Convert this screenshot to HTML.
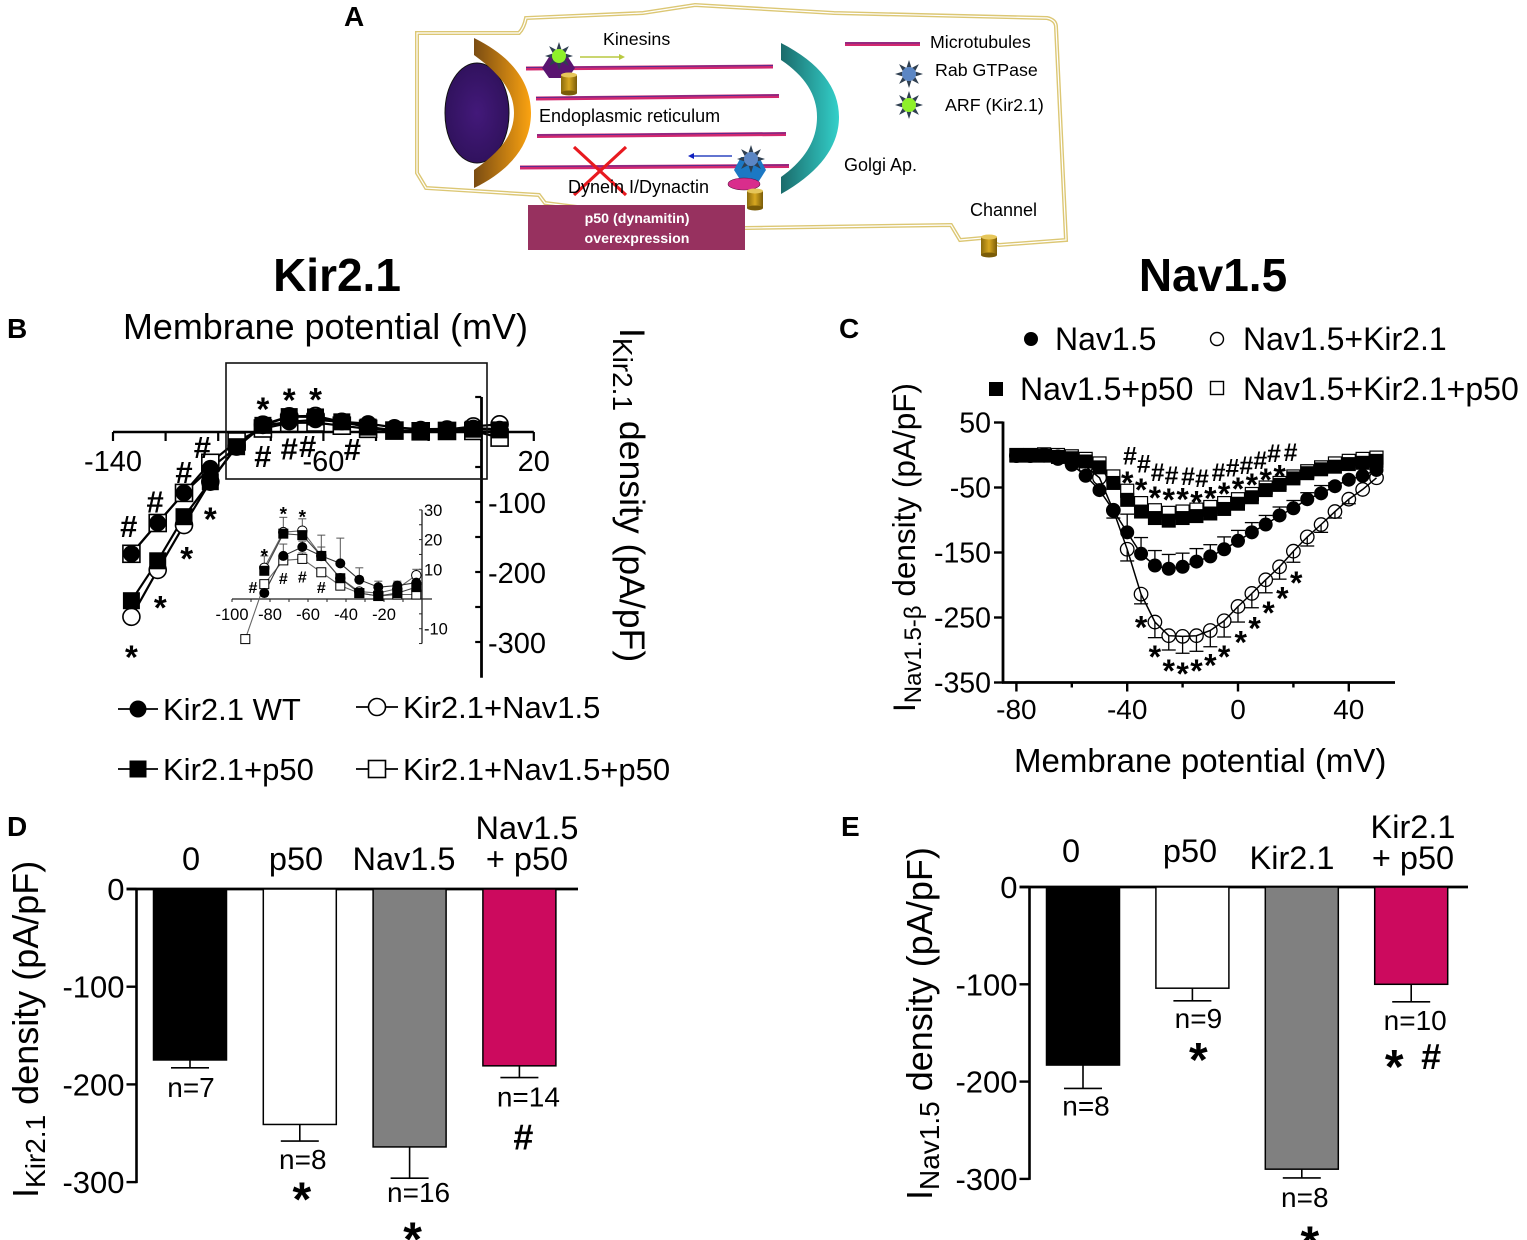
<!DOCTYPE html>
<html lang="en">
<head>
<meta charset="utf-8">
<title>Kir2.1 and Nav1.5 current density figure</title>
<style>
html,body{margin:0;padding:0;background:#fff;width:1527px;height:1240px;overflow:hidden}
svg{display:block}
text{font-family:"Liberation Sans",Arial,sans-serif;fill:#000}
</style>
</head>
<body>
<svg id="figure" xmlns="http://www.w3.org/2000/svg" width="1527" height="1240" viewBox="0 0 1527 1240">
  <defs>
    <linearGradient id="orangeGrad" x1="0" x2="1" y1="0" y2="0"><stop offset="0" stop-color="#7a4c12"/><stop offset="1" stop-color="#fba311"/></linearGradient>
    <linearGradient id="tealGrad" x1="0" x2="1" y1="0" y2="0"><stop offset="0" stop-color="#1b6b6b"/><stop offset="1" stop-color="#33d0ca"/></linearGradient>
    <linearGradient id="goldGrad" x1="0" x2="1" y1="0" y2="0"><stop offset="0" stop-color="#8a6a0c"/><stop offset=".5" stop-color="#d8a820"/><stop offset="1" stop-color="#7a5c08"/></linearGradient>
    <radialGradient id="nucGrad"><stop offset="0" stop-color="#43197a"/><stop offset="1" stop-color="#31125e"/></radialGradient>
  </defs>
  <rect width="1527" height="1240" fill="#fff"/>

  <g id="panel-a">
    <path d="M417 33 L519 33 Q524 28 526 18 L643 13 L695 5 L834 13 L1047 18 Q1056 20 1056 27 L1066 240 L999 245 L982 238 L960 240 L951 225 L745 228 L545 203 L539 195 L426 188 L417 173 Z" fill="none" stroke="#dcc774" stroke-width="4"/>
    <path d="M417 33 L519 33 Q524 28 526 18 L643 13 L695 5 L834 13 L1047 18 Q1056 20 1056 27 L1066 240 L999 245 L982 238 L960 240 L951 225 L745 228 L545 203 L539 195 L426 188 L417 173 Z" fill="none" stroke="#fff" stroke-width="1.2"/>
    <ellipse cx="477" cy="113" rx="32" ry="50" fill="url(#nucGrad)" stroke="#111" stroke-width="1"/>
    <path d="M474 38 C515 58 531 85 531 113 C531 141 515 168 474 188 L474 170 C500 152 514 135 514 113 C514 91 500 74 474 55 Z" fill="url(#orangeGrad)"/>
    <path d="M781 43 C820 63 839 88 839 117 C839 146 820 172 781 194 L781 177 C805 160 817 140 817 117 C817 95 805 76 781 60 Z" fill="url(#tealGrad)"/>
    <g stroke-linecap="butt">
      <line x1="526" y1="68.5" x2="773" y2="66.5" stroke="#d2286f" stroke-width="4"/>
      <line x1="536" y1="98.5" x2="779" y2="96" stroke="#d2286f" stroke-width="4"/>
      <line x1="537" y1="136" x2="786" y2="134" stroke="#d2286f" stroke-width="4"/>
      <line x1="520" y1="167.5" x2="789" y2="166" stroke="#d2286f" stroke-width="4"/>
      <line x1="845" y1="44" x2="920" y2="44" stroke="#d2286f" stroke-width="4"/>
      <line x1="526" y1="67.5" x2="773" y2="65.5" stroke="#5a2a90" stroke-width="1"/>
      <line x1="536" y1="97.5" x2="779" y2="95" stroke="#5a2a90" stroke-width="1"/>
      <line x1="537" y1="135" x2="786" y2="133" stroke="#5a2a90" stroke-width="1"/>
      <line x1="520" y1="166.5" x2="789" y2="165" stroke="#5a2a90" stroke-width="1"/>
      <line x1="845" y1="43" x2="920" y2="43" stroke="#5a2a90" stroke-width="1"/>
    </g>
    <polygon points="542,68 549,57 568,57 575,68 568,78 549,78" fill="#5a1470"/>
    <polygon points="734,170 741,157 759,157 766,170 759,181 741,181" fill="#1c78c4"/>
    <ellipse cx="744" cy="184" rx="16" ry="6" fill="#d92d8c" stroke="#5a1040" stroke-width=".6"/>
    <line x1="580" y1="57" x2="620" y2="57" stroke="#b9c940" stroke-width="1.5"/>
    <polygon points="625,57 619,54 619,60" fill="#b9c940"/>
    <line x1="732" y1="156" x2="693" y2="156" stroke="#2e46c0" stroke-width="1.5"/>
    <polygon points="688,156 694,153 694,159" fill="#1020c0"/>
    <g id="a-icons"></g>
    <line x1="574" y1="147" x2="626" y2="195" stroke="#e8191f" stroke-width="3.2"/>
    <line x1="626" y1="147" x2="574" y2="195" stroke="#e8191f" stroke-width="3.2"/>
    <rect x="528" y="205" width="217" height="45" fill="#97315f"/>
    <text x="637" y="223" font-size="14.2" font-weight="bold" text-anchor="middle" style="fill:#fff">p50 (dynamitin)</text>
    <text x="637" y="243" font-size="14.2" font-weight="bold" text-anchor="middle" style="fill:#fff">overexpression</text>
    <text x="603" y="45" font-size="17.8">Kinesins</text>
    <text x="930" y="48" font-size="17.8">Microtubules</text>
    <text x="935" y="76" font-size="17.8">Rab GTPase</text>
    <text x="945" y="111" font-size="17.8">ARF (Kir2.1)</text>
    <text x="539" y="122" font-size="18">Endoplasmic reticulum</text>
    <text x="568" y="193" font-size="18">Dynein I/Dynactin</text>
    <text x="844" y="171" font-size="18">Golgi Ap.</text>
    <text x="970" y="216" font-size="18">Channel</text>
  </g>

  <text x="344" y="26" font-size="28" font-weight="bold">A</text>
  <text x="7" y="338" font-size="28" font-weight="bold">B</text>
  <text x="839" y="338" font-size="28" font-weight="bold">C</text>
  <text x="7" y="836" font-size="28" font-weight="bold">D</text>
  <text x="841" y="836" font-size="28" font-weight="bold">E</text>

  <text x="337" y="291" font-size="46" font-weight="bold" text-anchor="middle">Kir2.1</text>
  <text x="1213" y="291" font-size="46" font-weight="bold" text-anchor="middle">Nav1.5</text>

  <text x="123" y="339" font-size="35.9">Membrane potential (mV)</text>
  <text transform="translate(620,328) rotate(90)" font-size="35.6">I<tspan font-size="28" dy="7">Kir2.1</tspan><tspan dy="-7"> density (pA/pF)</tspan></text>

  <g id="chart-b"></g>
  <g id="chart-b-inset"></g>
  <rect x="226" y="363" width="261" height="116" fill="none" stroke="#111" stroke-width="1.6"/>

  <g id="legend-b"></g>

  <text transform="translate(915,712) rotate(-90)" font-size="31.5">I<tspan font-size="24" dy="6">Nav1.5-β</tspan><tspan dy="-6"> density (pA/pF)</tspan></text>
  <text x="1014" y="772" font-size="33">Membrane potential (mV)</text>
  <g id="chart-c"></g>
  <g id="legend-c"></g>

  <text transform="translate(38,1198) rotate(-90)" font-size="36">I<tspan font-size="28" dy="7">Kir2.1</tspan><tspan dy="-7"> density (pA/pF)</tspan></text>
  <text transform="translate(932,1200) rotate(-90)" font-size="36">I<tspan font-size="28" dy="7">Nav1.5</tspan><tspan dy="-7"> density (pA/pF)</tspan></text>
  <g id="chart-d"></g>
  <g id="chart-e"></g>
</svg>

<script>
/* ---------- Panel B data ---------- */
const bVoltages = [-133,-123,-113,-103,-93,-83,-73,-63,-53,-43,-33,-23,-13,-3,7];
const bKirWT = [-174,-130,-87,-52,-22,9,14.5,17.5,14.5,12,6.5,4,4.5,5.5,4];
const bKirNav = [-264,-197,-133,-71,-20,10.5,22.5,23,14.5,7,2.5,2,3.5,8,11];
const bKirP50 = [-241,-184,-121,-71,-21,9.5,22,21.5,14.5,7,2,1,2,4,3];
const bKirNavP50 = [-174,-130,-87,-44,-13.5,5,13,13.5,9,4.5,2,1,1.5,1.5,-8];
const bXTicks = [-140,-120,-100,-80,-60,-40,-20,0,20];
const bXLabels = ["-140","","","","-60","","","","20"];
const bYTicks = [50,-50,-100,-150,-200,-250,-300];
const bYLabels = ["","","-100","","-200","","-300"];
const bStarVoltages = [-133,-122,-112,-103,-83,-73,-63];
const bStarDensities = [-311,-240,-170,-114,43,56,57];
const bHashVoltages = [-134,-124,-113,-106,-83,-73,-66,-49];
const bHashDensities = [-134,-99,-57,-21,-34,-23,-20,-24];

/* ---------- Panel B inset data ---------- */
const inVoltages = [-93,-83,-73,-63,-53,-43,-33,-23,-13,-3];
const inKirWT = [null,2,14.5,17.5,14.5,12,6.5,4,4.5,5.5];
const inKirNav = [null,10.5,22.5,23,14.5,7,2.5,2,3.5,8];
const inKirP50 = [null,9.5,22,21.5,14.5,7,2,1,2,4];
const inKirNavP50 = [-13.5,5,13,13.5,9,4.5,2,1,1.5,1.5];
const inErrWT = [0,0,4,2,3,8.5,4,2,1.5,2];
const inErrNav = [0,4,5,4,7,0,1,1.5,2,2];
const inErrNavP50 = [0,0,2,2,1,1,1,0,0,0];
const inXTicks = [-100,-80,-60,-40,-20];
const inXLabels = ["-100","-80","-60","-40","-20"];
const inYTicks = [30,20,10,-10];
const inYLabels = ["30","20","10","-10"];
const inStarVoltages = [-83,-73,-63];
const inStarValues = [16,30,29];
const inHashVoltages = [-89,-73,-63,-53];
const inHashValues = [4,7,7.5,4];

/* ---------- Panel C data ---------- */
const cVoltages = [-80,-75,-70,-65,-60,-55,-50,-45,-40,-35,-30,-25,-20,-15,-10,-5,0,5,10,15,20,25,30,35,40,45,50];
const cNav = [-1,-1,-1,-6,-15,-32,-54,-85,-119,-152,-170,-175,-172,-164,-156,-145,-132,-119,-107,-93,-82,-68,-59,-48,-38,-32,-23];
const cNavKir = [-1,-1,0,-3,-8,-18,-35,-85,-145,-214,-257,-278,-279,-278,-270,-255,-233,-213,-192,-172,-148,-126,-107,-87,-68,-53,-35];
const cNavP50 = [-1,-1,-1,-3,-5,-10,-19,-43,-69,-87,-97,-101,-97,-94,-90,-83,-75,-65,-54,-46,-36,-28,-22,-18,-14,-12,-9];
const cNavKirP50 = [0,0,1,0,-2,-6,-13,-33,-55,-74,-85,-89,-87,-84,-80,-74,-68,-60,-50,-43,-33,-25,-19,-13,-9,-6,-4];
const cErrNav = [0,0,0,0,0,0,0,-12,28,25,23,22,21,20,18,19,16,15,14,13,12,10,12,5,0,0,0];
const cErrNavKir = [0,0,0,0,0,0,0,0,18,15,24,22,26,24,25,25,24,22,20,19,17,14,12,10,7,0,0];
const cErrNavP50 = [0,0,0,0,0,0,0,0,20,15,15,14,12,10,7,7,8,7,5,3,2,0,0,0,0,0,0];
const cXTicks = [-80,-60,-40,-20,0,20,40];
const cXLabels = ["-80","","-40","","0","","40"];
const cYTicks = [50,-50,-150,-250,-350];
const cYLabels = ["50","-50","-150","-250","-350"];
const cUpperStarVoltages = [-40,-35,-30,-25,-20,-15,-10,-5,0,5,10,15];
const cUpperStarDensities = [-32,-43,-55,-58,-57,-62,-56,-49,-41,-35,-27,-22];
const cHashVoltages = [-39,-34,-29,-24,-18,-13,-7,-2,3,8,13,19];
const cHashDensities = [-1,-13,-26,-31,-32,-35,-26,-19,-15,-8,3,5];
const cLowerStarVoltages = [-35,-30,-25,-20,-15,-10,-5,1,6,11,16,21];
const cLowerStarDensities = [-254,-300,-321,-326,-321,-313,-300,-277,-256,-232,-210,-186];

/* ---------- Panel D data ---------- */
const dCategories = ["0","p50","Nav1.5","Nav1.5|+ p50"];
const dValues = [-175,-241,-264,-181];
const dErrors = [8,17,32,12];
const dCounts = ["n=7","n=8","n=16","n=14"];
const dSignificance = ["","*","*","#"];
const dYTicks = [0,-100,-200,-300];

/* ---------- Panel E data ---------- */
const eCategories = ["0","p50","Kir2.1","Kir2.1|+ p50"];
const eValues = [-183,-104,-290,-100];
const eErrors = [24,13,9,18];
const eCounts = ["n=8","n=9","n=8","n=10"];
const eSignificance = ["","*","*","* #"];
const eYTicks = [0,-100,-200,-300];

/* ---------- Axis functions ---------- */
const bX = v => 113 + (v + 140) * 2.63;
const bY = v => 432 - v * 0.7;
const inX = v => 422 + v * 1.9;
const inY = v => 599 - v * 2.97;
const cX = v => 1238 + v * 2.77;
const cY = v => 455 - v * 0.65;
const dY = v => 889 - v * 0.977;
const eY = v => 887 - v * 0.973;

const NS = "http://www.w3.org/2000/svg";
function mk(parent, tag, attrs, name) {
  const el = document.createElementNS(NS, tag);
  for (const k in attrs) el.setAttribute(k, attrs[k]);
  
  
  parent.appendChild(el);
  return el;
}
function line(p, x1, y1, x2, y2, color, w, name) {
  return mk(p, 'line', {x1, y1, x2, y2, stroke: color, 'stroke-width': w}, name);
}
function label(p, x, y, str, fs, anchor, name, weight) {
  const t = mk(p, 'text', {x, y, 'font-size': fs, 'text-anchor': anchor || 'middle', 'font-weight': weight || 'normal'}, name);
  t.textContent = str;
  return t;
}
/* y is the visual centre of the glyph */
function mark(p, x, y, ch, fs, name, weight) {
  const off = ch === '*' ? 0.57 : 0.36;
  return label(p, x, y + off * fs, ch, fs, 'middle', name, weight || 'bold');
}
function marker(p, kind, x, y, s, name, sw) {
  const w = sw || 1.6;
  if (kind === 'circle-fill') return mk(p, 'circle', {cx: x, cy: y, r: s / 2, fill: '#000'}, name);
  if (kind === 'circle-open') return mk(p, 'circle', {cx: x, cy: y, r: s / 2, fill: '#fff', stroke: '#000', 'stroke-width': w}, name);
  if (kind === 'square-fill') return mk(p, 'rect', {x: x - s / 2, y: y - s / 2, width: s, height: s, fill: '#000'}, name);
  return mk(p, 'rect', {x: x - s / 2, y: y - s / 2, width: s, height: s, fill: '#fff', stroke: '#000', 'stroke-width': w}, name);
}
function polyline(p, xs, ys, fx, fy, color, w, name) {
  const pts = [];
  xs.forEach((x, i) => { if (ys[i] !== null) pts.push(fx(x).toFixed(1) + ',' + fy(ys[i]).toFixed(1)); });
  return mk(p, 'polyline', {points: pts.join(' '), fill: 'none', stroke: color, 'stroke-width': w}, name);
}

/* ---------- Diagram icons ---------- */
const icons = document.getElementById('a-icons');
function burst(cx, cy, fill, name) {
  const g = mk(icons, 'g', {}, name);
  for (let i = 0; i < 8; i++) {
    const a = i * Math.PI / 4 - Math.PI / 2;
    const b = Math.PI / 9;
    const pts = [[cx + 14 * Math.cos(a), cy + 14 * Math.sin(a)], [cx + 7 * Math.cos(a - b), cy + 7 * Math.sin(a - b)], [cx + 7 * Math.cos(a + b), cy + 7 * Math.sin(a + b)]];
    mk(g, 'polygon', {points: pts.map(q => q.map(n => n.toFixed(1)).join(',')).join(' '), fill: '#2f3f50'}, name + '-spike');
  }
  mk(g, 'circle', {cx, cy, r: 7, fill}, name + '-core');
}
function cylinder(cx, top, h, name) {
  const g = mk(icons, 'g', {}, name);
  mk(g, 'rect', {x: cx - 8, y: top, width: 16, height: h, fill: 'url(#goldGrad)'}, name + '-body');
  mk(g, 'ellipse', {cx, cy: top + h, rx: 8, ry: 2.5, fill: '#7a5c08'}, name + '-bottom');
  mk(g, 'ellipse', {cx, cy: top, rx: 8, ry: 2.5, fill: '#e6c65a'}, name + '-top');
}
burst(559, 56, '#8ef02a', 'arf-on-kinesin');
burst(751, 159, '#5b86c4', 'rab-on-dynein');
burst(909, 74, '#5b86c4', 'rab-legend-icon');
burst(909, 105, '#8ef02a', 'arf-legend-icon');
cylinder(569, 75, 18, 'channel-kinesin');
cylinder(755, 191, 17, 'channel-dynein');
cylinder(989, 237, 18, 'channel-membrane');

/* ---------- Panel B main ---------- */
(function () {
  const g = document.getElementById('chart-b');
  line(g, bX(-140), bY(0), bX(20), bY(0), '#000', 2.6, 'b-x-axis-line');
  bXTicks.forEach((v, i) => {
    line(g, bX(v), bY(0), bX(v), bY(0) + 9, '#000', 2.2, 'b-x-tick');
    if (bXLabels[i]) label(g, bX(v), bY(0) + 39, bXLabels[i], 29, 'middle', 'b-x-tick-label');
  });
  line(g, bX(0) + 0.3, bY(50), bX(0) + 0.3, bY(-351), '#000', 2.8, 'b-y-axis-line');
  bYTicks.forEach((v, i) => {
    line(g, bX(0) - 6, bY(v), bX(0), bY(v), '#000', 2.2, 'b-y-tick');
    if (bYLabels[i]) label(g, 488, bY(v) + 11, bYLabels[i], 29, 'start', 'b-y-tick-label');
  });
  polyline(g, bVoltages, bKirNav, bX, bY, '#000', 2.2, 'b-line-kir-nav');
  polyline(g, bVoltages, bKirNavP50, bX, bY, '#000', 2.2, 'b-line-kir-nav-p50');
  polyline(g, bVoltages, bKirWT, bX, bY, '#000', 2.2, 'b-line-kir-wt');
  polyline(g, bVoltages, bKirP50, bX, bY, '#000', 2.2, 'b-line-kir-p50');
  bVoltages.forEach((v, i) => { marker(g, 'circle-open', bX(v), bY(bKirNav[i]), 17, 'b-point-kir-nav'); });
  bVoltages.forEach((v, i) => { marker(g, 'square-open', bX(v), bY(bKirNavP50[i]), 17, 'b-point-kir-nav-p50'); });
  bVoltages.forEach((v, i) => { marker(g, 'circle-fill', bX(v), bY(bKirWT[i]), 17, 'b-point-kir-wt'); });
  bVoltages.forEach((v, i) => { marker(g, 'square-fill', bX(v), bY(bKirP50[i]), 17, 'b-point-kir-p50'); });
  bStarVoltages.forEach((v, i) => { mark(g, bX(v), bY(bStarDensities[i]), '*', 33, 'b-star'); });
  bHashVoltages.forEach((v, i) => { mark(g, bX(v), bY(bHashDensities[i]), '#', 31, 'b-hash'); });
})();

/* ---------- Panel B inset ---------- */
(function () {
  const g = document.getElementById('chart-b-inset');
  line(g, inX(-100), inY(0), 432, inY(0), '#222', 1.3, 'inset-x-axis-line');
  for (const v of [-100,-90,-80,-70,-60,-50,-40,-30,-20,-10]) {
    line(g, inX(v), inY(0), inX(v), inY(0) + 3, '#222', 1, 'inset-x-tick');
  }
  inXTicks.forEach((v, i) => { label(g, inX(v), inY(0) + 21, inXLabels[i], 16.5, 'middle', 'inset-x-tick-label'); });
  line(g, inX(0), inY(30), inX(0), inY(-15), '#222', 1.3, 'inset-y-axis-line');
  for (const v of [30,25,20,15,10,5,-5,-10,-15]) {
    line(g, inX(0) - 3, inY(v), inX(0), inY(v), '#222', 1, 'inset-y-tick');
  }
  inYTicks.forEach((v, i) => { label(g, inX(0) + 2, inY(v) + 6, inYLabels[i], 16.5, 'start', 'inset-y-tick-label'); });
  function err(vals, errs, name) {
    inVoltages.forEach((v, i) => {
      if (vals[i] === null || !errs[i]) return;
      const top = inY(vals[i] + errs[i]);
      line(g, inX(v), inY(vals[i]), inX(v), top, '#555', 1, name + '-stem');
      line(g, inX(v) - 4, top, inX(v) + 4, top, '#555', 1, name + '-cap');
    });
  }
  err(inKirWT, inErrWT, 'inset-error-kir-wt');
  err(inKirNav, inErrNav, 'inset-error-kir-nav');
  err(inKirNavP50, inErrNavP50, 'inset-error-kir-nav-p50');
  polyline(g, inVoltages, inKirNavP50, inX, inY, '#666', 1.1, 'inset-line-kir-nav-p50');
  polyline(g, inVoltages, inKirNav, inX, inY, '#666', 1.1, 'inset-line-kir-nav');
  polyline(g, inVoltages, inKirP50, inX, inY, '#444', 1.1, 'inset-line-kir-p50');
  polyline(g, inVoltages, inKirWT, inX, inY, '#333', 1.1, 'inset-line-kir-wt');
  inVoltages.forEach((v, i) => { if (inKirNav[i] !== null) marker(g, 'circle-open', inX(v), inY(inKirNav[i]), 9.5, 'inset-point-kir-nav', 1); });
  inVoltages.forEach((v, i) => { marker(g, 'square-open', inX(v), inY(inKirNavP50[i]), 9, 'inset-point-kir-nav-p50', 1); });
  inVoltages.forEach((v, i) => { if (inKirWT[i] !== null) marker(g, 'circle-fill', inX(v), inY(inKirWT[i]), 10, 'inset-point-kir-wt'); });
  inVoltages.forEach((v, i) => { if (inKirP50[i] !== null) marker(g, 'square-fill', inX(v), inY(inKirP50[i]), 10, 'inset-point-kir-p50'); });
  inStarVoltages.forEach((v, i) => { mark(g, inX(v), inY(inStarValues[i]), '*', 19, 'inset-star'); });
  inHashVoltages.forEach((v, i) => { mark(g, inX(v), inY(inHashValues[i]), '#', 16, 'inset-hash'); });
})();

/* ---------- Panel B legend ---------- */
(function () {
  const g = document.getElementById('legend-b');
  function row(x1, x2, y, kind, tx, txt, name) {
    line(g, x1, y, x2, y, '#000', 1.8, name + '-line');
    marker(g, kind, (x1 + x2) / 2, y, 17, name + '-marker');
    label(g, tx, y + 11, txt, 31, 'start', name + '-label');
  }
  row(118, 158, 709, 'circle-fill', 163, 'Kir2.1 WT', 'legend-kir-wt');
  row(356, 398, 707, 'circle-open', 403, 'Kir2.1+Nav1.5', 'legend-kir-nav');
  row(118, 158, 769, 'square-fill', 163, 'Kir2.1+p50', 'legend-kir-p50');
  row(356, 398, 769, 'square-open', 403, 'Kir2.1+Nav1.5+p50', 'legend-kir-nav-p50');
})();

/* ---------- Panel C ---------- */
(function () {
  const g = document.getElementById('chart-c');
  line(g, 1003, cY(50) - 1, 1003, cY(-350) + 1, '#000', 2.8, 'c-y-axis-line');
  line(g, 1002, cY(-350), 1395, cY(-350), '#000', 2.8, 'c-x-axis-line');
  cYTicks.forEach((v, i) => {
    line(g, 994, cY(v), 1003, cY(v), '#000', 2.4, 'c-y-tick');
    label(g, 991, cY(v) + 10, cYLabels[i], 28.5, 'end', 'c-y-tick-label');
  });
  cXTicks.forEach((v, i) => {
    line(g, cX(v), cY(-350), cX(v), cY(-350) + (cXLabels[i] ? 9 : 5), '#000', 2.4, 'c-x-tick');
    if (cXLabels[i]) label(g, cX(v), 719, cXLabels[i], 28, 'middle', 'c-x-tick-label');
  });
  function err(vals, errs, sign, name) {
    cVoltages.forEach((v, i) => {
      if (!errs[i]) return;
      const end = cY(vals[i] + sign * errs[i]);
      line(g, cX(v), cY(vals[i]), cX(v), end, '#000', 1.3, name + '-stem');
      line(g, cX(v) - 7, end, cX(v) + 7, end, '#000', 1.3, name + '-cap');
    });
  }
  err(cNavP50, cErrNavP50, 1, 'c-error-nav-p50');
  err(cNav, cErrNav, 1, 'c-error-nav');
  err(cNavKir, cErrNavKir, -1, 'c-error-nav-kir');
  polyline(g, cVoltages, cNavKir, cX, cY, '#000', 1.5, 'c-line-nav-kir');
  polyline(g, cVoltages, cNav, cX, cY, '#000', 1.5, 'c-line-nav');
  cVoltages.forEach((v, i) => { marker(g, 'square-open', cX(v), cY(cNavKirP50[i]), 13, 'c-point-nav-kir-p50', 1.2); });
  cVoltages.forEach((v, i) => { marker(g, 'square-fill', cX(v), cY(cNavP50[i]), 14, 'c-point-nav-p50'); });
  cVoltages.forEach((v, i) => { marker(g, 'circle-fill', cX(v), cY(cNav[i]), 14, 'c-point-nav'); });
  cVoltages.forEach((v, i) => {
    const c = marker(g, 'circle-open', cX(v), cY(cNavKir[i]), 13.5, 'c-point-nav-kir', 1.3);
    c.setAttribute('fill', 'none');
  });
  cUpperStarVoltages.forEach((v, i) => { mark(g, cX(v), cY(cUpperStarDensities[i]), '*', 32, 'c-upper-star'); });
  cHashVoltages.forEach((v, i) => { mark(g, cX(v), cY(cHashDensities[i]), '#', 25, 'c-hash'); });
  cLowerStarVoltages.forEach((v, i) => { mark(g, cX(v), cY(cLowerStarDensities[i]), '*', 32, 'c-lower-star'); });
})();

/* ---------- Panel C legend ---------- */
(function () {
  const g = document.getElementById('legend-c');
  marker(g, 'circle-fill', 1031, 339, 14, 'legend-nav-marker');
  label(g, 1055, 350, 'Nav1.5', 32, 'start', 'legend-nav-label');
  marker(g, 'circle-open', 1217, 339, 13, 'legend-nav-kir-marker', 1.4);
  label(g, 1243, 350, 'Nav1.5+Kir2.1', 32, 'start', 'legend-nav-kir-label');
  marker(g, 'square-fill', 996, 389, 14, 'legend-nav-p50-marker');
  label(g, 1020, 400, 'Nav1.5+p50', 32, 'start', 'legend-nav-p50-label');
  marker(g, 'square-open', 1217, 388, 13, 'legend-nav-kir-p50-marker', 1.4);
  label(g, 1243, 400, 'Nav1.5+Kir2.1+p50', 32, 'start', 'legend-nav-kir-p50-label');
})();

/* ---------- Bar charts ---------- */
const barFills = ['#000', '#fff', '#808080', '#cc0a5e'];
function barChart(opts) {
  const g = document.getElementById(opts.id);
  const p = opts.prefix, y = opts.y;
  line(g, opts.axisX - 10, y(0), opts.axisEnd, y(0), '#000', 2.8, p + '-x-axis-line');
  line(g, opts.axisX, y(0) - 1, opts.axisX, y(-300) + 1, '#000', 2.6, p + '-y-axis-line');
  opts.ticks.forEach(v => {
    line(g, opts.axisX - 10, y(v), opts.axisX, y(v), '#000', 2.4, p + '-y-tick');
    label(g, opts.axisX - 12, y(v) + 11, String(v), 31, 'end', p + '-y-tick-label');
  });
  opts.values.forEach((v, i) => {
    const x = opts.firstBar + i * opts.step;
    const cx = x + 36.5;
    const endY = y(v - opts.errors[i]);
    line(g, cx, y(v), cx, endY, '#000', 1.6, p + '-error-stem');
    line(g, cx - 19, endY, cx + 19, endY, '#000', 1.6, p + '-error-cap');
    mk(g, 'rect', {x, y: y(0), width: 73, height: y(v) - y(0), fill: barFills[i], stroke: '#000', 'stroke-width': 1.5}, p + '-bar');
    label(g, cx + opts.nOffsets[i], endY + opts.nDrops[i], opts.counts[i], 28, 'middle', p + '-count-label');
    const sig = opts.sig[i];
    sig.split(' ').forEach((s, k) => {
      if (!s) return;
      mark(g, cx + opts.sigOffsets[i] + k * 37, endY + opts.sigDrop[i], s, s === '*' ? 48 : 36, p + '-significance');
    });
    const lines = opts.categories[i].split('|');
    lines.forEach((t, k) => {
      const base = lines.length > 1 ? opts.catTop + k * 31 : opts.catY[i];
      label(g, opts.catX[i], base, t, 32.5, 'middle', p + '-category-label');
    });
  });
}
barChart({id: 'chart-d', prefix: 'd', y: dY, axisX: 136.5, axisEnd: 578, firstBar: 153.5, step: 109.8,
  values: dValues, errors: dErrors, counts: dCounts, sig: dSignificance, categories: dCategories, ticks: dYTicks,
  nOffsets: [1, 3, 9, 9], nDrops: [29, 28, 24, 29], sigOffsets: [0, 2, 3, 4], sigDrop: [0, 47, 50, 59],
  catX: [191, 296, 404, 527], catY: [870, 870, 870, 0], catTop: 839});
barChart({id: 'chart-e', prefix: 'e', y: eY, axisX: 1029.5, axisEnd: 1468, firstBar: 1046.5, step: 109.4,
  values: eValues, errors: eErrors, counts: eCounts, sig: eSignificance, categories: eCategories, ticks: eYTicks,
  nOffsets: [3, 6, 3, 4], nDrops: [27, 27, 29, 28], sigOffsets: [0, 6, 8, -17], sigDrop: [0, 48, 54, 54],
  catX: [1071, 1190, 1292, 1413], catY: [862, 862, 869, 0], catTop: 838});
</script>
</body>
</html>
